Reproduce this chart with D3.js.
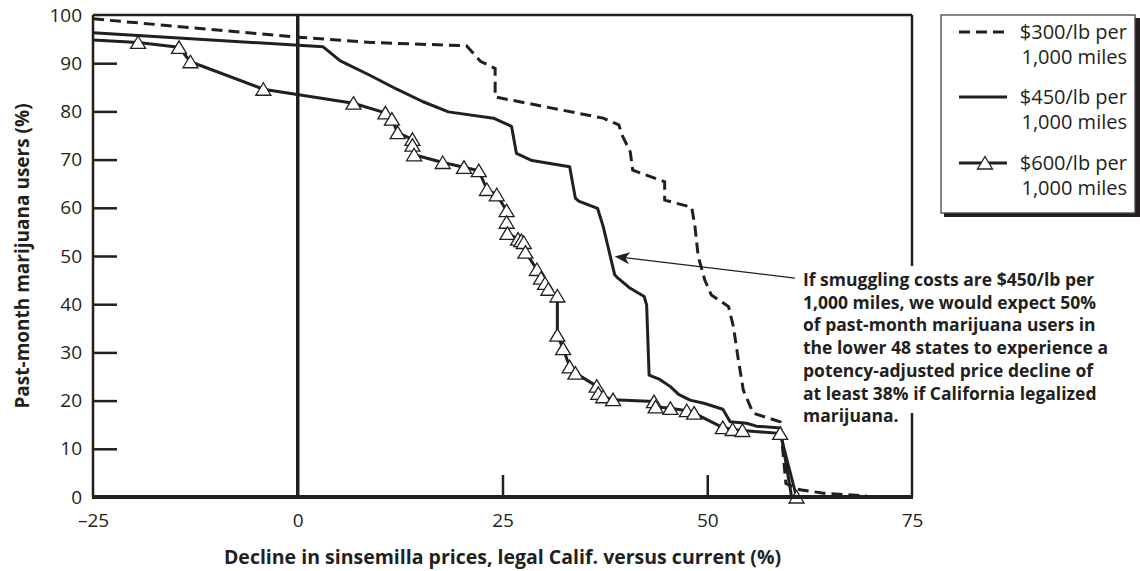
<!doctype html>
<html lang="en">
<head>
    <meta charset="UTF-8">
    <title>Sinsemilla price decline</title>
    <script type="text/javascript" src="https://cdn.jsdelivr.net/npm/d3@7"></script>
    <style type="text/css">
        body { margin: 0; background: #fff; }
        svg { font-family: "Open Sans", "Noto Sans", sans-serif; }
    </style>
</head>
<body>
<script type="text/javascript">
    var width = 1140;
    var height = 571;
    var ink = "#231f20";

    // axis ticks
    var x_ticks = [-25, 0, 25, 50, 75];
    var y_ticks = [0, 10, 20, 30, 40, 50, 60, 70, 80, 90, 100];

    // $300/lb per 1,000 miles (dashed)
    var s300_x = [-25, 0, 9, 20.6, 22.3, 24.1, 24.1, 37.3, 39.2, 39.6, 40.6, 40.9, 44.8, 44.8, 48.1, 48.5, 48.9,
        49.7, 50.5, 52.6, 53.2, 53.8, 54.4, 55.6, 58.9, 59.6, 61.3, 64.2, 69.5];
    var s300_y = [99.2, 95.4, 94.3, 93.6, 90.4, 88.9, 83.0, 78.6, 77.2, 75.1, 71.6, 67.8, 65.4, 61.6, 60.1, 56.1, 49.9,
        45.0, 41.9, 39.5, 35.3, 28.4, 22.2, 17.4, 15.6, 2.8, 1.5, 0.8, 0.2];

    // $450/lb per 1,000 miles (solid)
    var s450_x = [-25, 3.1, 5.2, 8.8, 12.1, 15.3, 18.4, 23.9, 26.1, 26.7, 28.6, 33.2, 33.9, 34.3, 36.6, 37.3, 38.7,
        39.1, 40.6, 42.3, 42.6, 42.9, 44.2, 45.5, 46.5, 47.9, 49.7, 51.9, 52.8, 54.8, 56.0, 58.9, 60.3, 70];
    var s450_y = [96.3, 93.4, 90.5, 87.5, 84.6, 82.0, 79.9, 78.6, 76.9, 71.3, 69.8, 68.5, 62.0, 61.4, 59.9, 56.1, 46.1,
        45.4, 43.3, 41.6, 39.8, 25.3, 24.4, 22.9, 21.3, 20.1, 19.4, 18.2, 15.6, 15.3, 14.7, 14.3, 0, 0];

    // $600/lb per 1,000 miles (triangles), first point is the unmarked start
    var s600_x = [-25, -19.5, -14.5, -13.1, -4.2, 6.8, 10.7, 11.5, 12.2, 14.0, 14.0, 14.2, 17.7, 20.3, 22.1, 23.1,
        24.3, 25.5, 25.5, 25.6, 26.9, 27.3, 27.6, 27.8, 29.2, 29.7, 30.2, 30.6, 31.7, 31.7, 32.4, 33.2, 33.9, 36.5,
        36.7, 37.3, 38.5, 43.5, 43.7, 45.5, 47.5, 48.4, 51.9, 53.1, 54.3, 58.9, 60.9];
    var s600_y = [94.8, 94.3, 93.3, 90.3, 84.6, 81.7, 79.7, 78.4, 75.6, 74.2, 73.0, 71.0, 69.4, 68.4, 67.7, 63.8,
        62.7, 59.4, 57.0, 54.7, 53.5, 53.2, 52.8, 50.8, 47.2, 45.4, 44.3, 43.1, 41.7, 33.6, 30.8, 27.0, 25.7, 23.0,
        21.5, 20.8, 20.2, 19.8, 18.7, 18.4, 17.9, 17.4, 14.4, 14.0, 13.8, 13.2, 0];

    var legend_labels = ["$300/lb per", "$450/lb per", "$600/lb per"];
    var legend_sub = "1,000 miles";

    var note_lines = [
        "If smuggling costs are $450/lb per",
        "1,000 miles, we would expect 50%",
        "of past-month marijuana users in",
        "the lower 48 states to experience a",
        "potency-adjusted price decline of",
        "at least 38% if California legalized",
        "marijuana."
    ];

    function zip(xs, ys) {
        return xs.map(function (x, i) { return [x, ys[i]]; });
    }
    var p300 = zip(s300_x, s300_y);
    var p450 = zip(s450_x, s450_y);
    var p600 = zip(s600_x, s600_y);

    var plot_left = 93, plot_right = 912, plot_top = 15, plot_bottom = 497;

    var x_scale = d3.scaleLinear().domain([-25, 75]).range([plot_left, plot_right]);
    var y_scale = d3.scaleLinear().domain([0, 100]).range([plot_bottom, plot_top]);

    var svg = d3.select("body").append("svg").attr("width", width).attr("height", height);

    var line = d3.line()
        .x(function (d) { return x_scale(d[0]); })
        .y(function (d) { return y_scale(d[1]); });

    // y axis
    var y_axis = svg.append("g")
        .attr("transform", "translate(" + plot_left + ",0)")
        .call(d3.axisLeft(y_scale).tickValues(y_ticks).tickSizeInner(-24).tickSizeOuter(0).tickPadding(11));
    y_axis.select(".domain").remove();
    y_axis.selectAll(".tick line")
        .attr("stroke", ink).attr("stroke-width", 2.5)
        .attr("display", function (d) { return (d === 0 || d === 100) ? "none" : null; });
    y_axis.selectAll(".tick text")
        .attr("fill", ink).attr("font-size", "19px").attr("font-family", "Open Sans");

    // x axis
    var x_axis = svg.append("g")
        .attr("transform", "translate(0," + plot_bottom + ")")
        .call(d3.axisBottom(x_scale).tickValues(x_ticks).tickSizeInner(-22).tickSizeOuter(0).tickPadding(17)
            .tickFormat(function (d) { return d < 0 ? "\u2013" + Math.abs(d) : d; }));
    x_axis.select(".domain").remove();
    x_axis.selectAll(".tick line")
        .attr("stroke", ink).attr("stroke-width", 2.5)
        .attr("display", function (d) { return (d === 25 || d === 50) ? null : "none"; });
    x_axis.selectAll(".tick text")
        .attr("fill", ink).attr("font-size", "19px").attr("font-family", "Open Sans");

    // frame and zero line
    svg.append("line").attr("x1", plot_left).attr("x2", plot_right).attr("y1", plot_top).attr("y2", plot_top)
        .attr("stroke", ink).attr("stroke-width", 2.5);
    svg.append("line").attr("x1", plot_left).attr("x2", plot_left).attr("y1", plot_top).attr("y2", plot_bottom)
        .attr("stroke", ink).attr("stroke-width", 2.5);
    svg.append("line").attr("x1", plot_right).attr("x2", plot_right).attr("y1", plot_top).attr("y2", plot_bottom)
        .attr("stroke", ink).attr("stroke-width", 2.5);
    svg.append("line").attr("x1", x_scale(0)).attr("x2", x_scale(0)).attr("y1", plot_top).attr("y2", plot_bottom)
        .attr("stroke", ink).attr("stroke-width", 3.5);

    // series
    svg.append("path").attr("d", line(p300)).attr("fill", "none").attr("stroke", ink)
        .attr("stroke-width", 3).attr("stroke-dasharray", "11,6");
    svg.append("path").attr("d", line(p450)).attr("fill", "none").attr("stroke", ink)
        .attr("stroke-width", 3).attr("stroke-linejoin", "round");
    svg.append("path").attr("d", line(p600)).attr("fill", "none").attr("stroke", ink)
        .attr("stroke-width", 3).attr("stroke-linejoin", "round");

    var tri = "M0,-6.5L7.5,6L-7.5,6Z";
    svg.selectAll("path.tri")
        .data(p600.slice(1))
        .enter()
        .append("path")
        .attr("class", "tri")
        .attr("d", tri)
        .attr("transform", function (d) { return "translate(" + x_scale(d[0]) + "," + y_scale(d[1]) + ")"; })
        .attr("fill", "#fff").attr("stroke", ink).attr("stroke-width", 1.3);

    // bottom axis line on top
    svg.append("line").attr("x1", plot_left - 1).attr("x2", plot_right + 1).attr("y1", plot_bottom).attr("y2", plot_bottom)
        .attr("stroke", ink).attr("stroke-width", 4);

    // axis titles
    svg.append("text")
        .attr("transform", "translate(29," + ((plot_top + plot_bottom) / 2) + ") rotate(-90)")
        .attr("text-anchor", "middle")
        .attr("font-size", "19px").attr("font-weight", "bold").attr("fill", ink)
        .text("Past-month marijuana users (%)");
    svg.append("text")
        .attr("x", x_scale(25)).attr("y", 564)
        .attr("text-anchor", "middle")
        .attr("font-size", "19.5px").attr("font-weight", "bold").attr("fill", ink)
        .text("Decline in sinsemilla prices, legal Calif. versus current (%)");

    // annotation
    var tail = [x_scale(60.7), y_scale(45.4)];
    var tip = [x_scale(38.7), y_scale(49.9)];
    var ang = Math.atan2(tip[1] - tail[1], tip[0] - tail[0]);
    svg.append("line")
        .attr("x1", tail[0]).attr("y1", tail[1])
        .attr("x2", tip[0] - 10 * Math.cos(ang)).attr("y2", tip[1] - 10 * Math.sin(ang))
        .attr("stroke", ink).attr("stroke-width", 1.3);
    svg.append("path")
        .attr("d", "M0,0L-15,-6L-11,0L-15,6Z")
        .attr("transform", "translate(" + tip[0] + "," + tip[1] + ") rotate(" + (ang * 180 / Math.PI) + ")")
        .attr("fill", ink);

    svg.append("rect").attr("x", 799).attr("y", 266).attr("width", 318).attr("height", 147).attr("fill", "#fff");
    svg.append("g").selectAll("text")
        .data(note_lines)
        .enter()
        .append("text")
        .attr("x", 803)
        .attr("y", function (d, i) { return 286 + i * 22.7; })
        .attr("font-size", "17.5px").attr("font-weight", "bold").attr("fill", ink)
        .text(function (d) { return d; });

    // legend
    var lg = svg.append("g");
    lg.append("rect").attr("x", 944).attr("y", 18).attr("width", 196).attr("height", 199).attr("fill", ink);
    lg.append("rect").attr("x", 941).attr("y", 15).attr("width", 194).attr("height", 198)
        .attr("fill", "#fff").attr("stroke", "#444").attr("stroke-width", 1.3);

    var leg_y = [32, 97, 163];
    legend_labels.forEach(function (lab, i) {
        var yy = leg_y[i];
        var ln = lg.append("line").attr("x1", 959).attr("x2", 1007).attr("y1", yy).attr("y2", yy)
            .attr("stroke", ink).attr("stroke-width", 3);
        if (i === 0) ln.attr("stroke-dasharray", "11,6");
        if (i === 2) {
            lg.append("path").attr("d", tri).attr("transform", "translate(985," + yy + ")")
                .attr("fill", "#fff").attr("stroke", ink).attr("stroke-width", 1.3);
        }
        lg.append("text").attr("x", 1127).attr("y", yy + 7).attr("text-anchor", "end")
            .attr("font-size", "20px").attr("fill", ink).text(lab);
        lg.append("text").attr("x", 1127).attr("y", yy + 32).attr("text-anchor", "end")
            .attr("font-size", "20px").attr("fill", ink).text(legend_sub);
    });
</script>
</body>
</html>
